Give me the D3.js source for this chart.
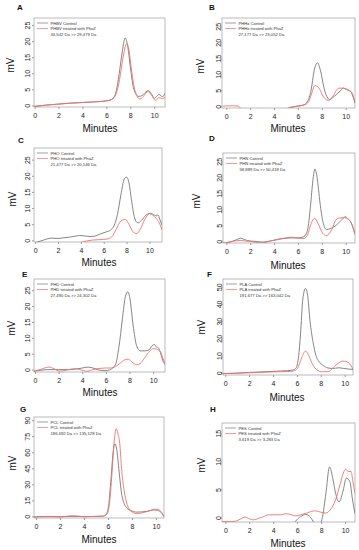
<!DOCTYPE html>
<html>
<head>
<meta charset="utf-8">
<script src="https://cdn.jsdelivr.net/npm/d3@7"></script>
<style>
  body { margin: 0; background: #fff; }
  svg { display: block; font-family: "Liberation Sans", Arial, sans-serif; }
</style>
</head>
<body>
<svg id="fig" width="359" height="550"></svg>
<script>
// ---- data: [minutes, mV] ----
const phbvControl = [[0,-0.3],[1,0.1],[2,0.4],[3,0.7],[4,0.9],[5,1.1],[6,1.4],[6.4,1.8],[6.7,3],[7.0,8],[7.3,16],[7.57,21],[7.8,18],[8.0,12],[8.3,5],[8.7,2.8],[9.0,3.1],[9.3,4.2],[9.5,4.6],[9.75,3.7],[10.0,2.2],[10.2,2.8],[10.4,3.4],[10.7,2.7],[10.9,3.8]];
const phbvTreated = [[0,-0.3],[1,0.1],[2,0.4],[3,0.7],[4,0.9],[5,1.1],[6,1.4],[6.5,2],[6.8,3.5],[7.1,8],[7.4,15],[7.7,19.3],[7.9,17],[8.1,11],[8.4,4.5],[8.8,2.0],[9.1,2.8],[9.3,3.9],[9.5,4.3],[9.8,3.0],[10.1,1.6],[10.4,2.4],[10.7,2.1],[10.9,2.7]];
const phhxControl = [[-0.3,-2],[2,-2],[4,-1.5],[5.0,-0.8],[5.4,-0.3],[6,0.1],[6.5,0.5],[6.8,1.5],[7.1,5],[7.35,11],[7.63,13.6],[7.9,11],[8.2,5.5],[8.5,2.6],[8.65,2.1],[9.0,3.0],[9.3,4.0],[9.6,5.0],[9.8,5.7],[10.1,5.2],[10.4,4.7],[10.6,3.2],[10.78,1.0]];
const phhxTreated = [[-0.3,0.1],[0.5,0.2],[1.0,0.1],[1.2,-0.6],[1.5,-1.5],[3,-2],[5.0,-0.8],[5.4,-0.3],[6,0.1],[6.5,0.4],[6.9,1.5],[7.1,3.5],[7.43,6.5],[7.8,5.5],[8.1,3.2],[8.55,1.9],[9.0,3.6],[9.3,5.4],[9.5,5.7],[9.8,5.7],[10.1,5.4],[10.3,5.0],[10.5,4.4],[10.78,1.0]];
const phoControl = [[-0.1,-0.8],[0.5,-0.2],[1.0,0.4],[1.4,0.7],[2,0.6],[2.5,0.8],[3,1.0],[3.5,1.3],[3.9,1.5],[4.3,1.4],[4.8,1.2],[5.2,1.3],[5.7,2.0],[6.2,2.6],[6.6,3.2],[6.9,4.5],[7.2,8],[7.5,14],[7.8,19],[8.0,19.6],[8.2,18],[8.45,12],[8.7,7],[9.0,5.4],[9.3,6.2],[9.7,7.8],[10.1,8.4],[10.45,7.8],[10.6,7.6],[10.75,7.9],[10.9,6.6],[11.1,4.7]];
const phoTreated = [[-0.1,-2],[3.5,-1.5],[4.0,-0.7],[4.5,-0.2],[5.0,0.1],[5.5,0.2],[6.0,0.3],[6.4,0.5],[6.8,1.5],[7.1,3.5],[7.5,6.0],[7.9,6.5],[8.2,5.0],[8.6,2.5],[8.9,2.1],[9.2,3.5],[9.6,6.5],[10.0,8.2],[10.3,7.8],[10.6,6.8],[10.85,5.5],[11.1,3.2]];
const phnControl = [[-0.28,-0.6],[0.5,0],[0.9,0.6],[1.2,1.0],[1.5,0.6],[2.0,0.1],[2.5,0],[3.0,-0.2],[3.5,0],[4.0,0.4],[4.5,0.8],[5.0,1.0],[5.5,1.1],[6.0,1.1],[6.5,1.5],[6.8,3.5],[7.05,11],[7.25,19],[7.42,22.6],[7.6,20],[7.85,12],[8.1,6],[8.4,3.7],[8.7,4.0],[9.25,5.2],[9.6,6.5],[9.98,7.7],[10.2,7.0],[10.4,6.2],[10.6,4.5],[10.78,2.2]];
const phnTreated = [[-0.28,-0.6],[0.5,0],[1.2,0.3],[1.6,0.1],[2.0,0],[2.5,-0.3],[2.9,-0.5],[3.3,-0.3],[3.8,0.2],[4.4,0.6],[5.0,1.1],[5.5,1.3],[6.0,1.0],[6.5,0.9],[6.8,2],[7.1,5.5],[7.4,7.2],[7.7,5.5],[8.0,3.0],[8.4,1.8],[8.8,3.5],[9.2,6.8],[9.5,7.3],[9.9,7.4],[10.2,7.0],[10.4,6.2],[10.6,4.5],[10.78,2.2]];
const phdControl = [[-0.08,-0.5],[0.5,-0.2],[1,0],[2,0],[3,0],[3.5,0.2],[4.0,0.5],[4.5,0.8],[5.0,0.4],[5.5,-0.2],[6.0,-0.3],[6.3,-0.1],[6.6,0.6],[6.85,2],[7.1,7],[7.4,16],[7.65,23],[7.85,24.5],[8.05,22],[8.3,14],[8.6,7.5],[8.9,5.9],[9.3,5.9],[9.65,6.2],[9.9,7.5],[10.1,7.9],[10.3,7.0],[10.45,6.8],[10.6,5.5],[10.8,3],[11,1.6]];
const phdTreated = [[-0.08,-0.5],[0.5,0.1],[0.9,0.6],[1.2,0.8],[1.6,0.3],[2.1,-0.5],[2.6,-0.2],[3.1,0.2],[3.4,0.3],[3.8,0.0],[4.4,-0.5],[5.0,0.1],[5.5,0.4],[6.0,0.5],[6.4,0.5],[6.8,0.9],[7.2,2.0],[7.6,3.1],[7.9,3.3],[8.2,2.4],[8.6,1.5],[8.9,1.9],[9.3,3.8],[9.7,5.8],[10.0,6.6],[10.3,6.4],[10.6,5.7],[10.8,3.8],[11,1.9]];
const plaControl = [[-0.19,-0.5],[1,-0.2],[2,0.2],[3,0.5],[4,0.8],[4.6,1.0],[5.2,1.2],[5.7,1.6],[5.95,3],[6.15,10],[6.3,22],[6.5,43],[6.72,49],[6.9,45],[7.1,30],[7.35,18],[7.6,10],[7.85,6.5],[8.2,4.3],[8.6,2.8],[9.0,2.5],[9.5,2.9],[9.9,2.5],[10.3,2.2],[10.7,1.9]];
const plaTreated = [[-0.19,-0.5],[1,-0.3],[2,0],[3,0.2],[4,0.5],[4.6,0.6],[5.2,0.7],[5.7,1.0],[6.05,2.5],[6.4,8.7],[6.72,12.6],[7.0,10],[7.2,6.5],[7.5,2.9],[8.05,0.6],[8.6,0.6],[9.2,4.1],[9.5,5.6],[9.85,6.8],[10.3,6.0],[10.5,4.5],[10.7,2.1]];
const pclControl = [[-0.17,-0.5],[1,0],[2,-0.3],[3,0],[4,-0.2],[5,0],[5.6,0.3],[5.85,2],[6.05,10],[6.25,35],[6.45,62],[6.58,68],[6.72,63],[6.9,45],[7.1,24],[7.35,12],[7.6,7.5],[7.9,5.5],[8.4,4.0],[8.8,4.2],[9.3,4.8],[9.8,6.0],[10.1,5.8],[10.35,4.5],[10.67,0]];
const pclTreated = [[-0.17,-0.5],[1,-0.3],[2,-0.5],[2.5,0],[3.0,0.6],[3.5,0.3],[4,-0.3],[5,0],[5.6,0.2],[5.9,2],[6.1,10],[6.3,35],[6.5,68],[6.68,82],[6.82,78],[7.0,66],[7.15,42],[7.35,24],[7.6,11],[7.9,5],[8.4,2.6],[8.9,3.5],[9.4,5.0],[9.9,6.8],[10.2,6.2],[10.4,4.8],[10.67,-0.5]];
const pesControl = [[-0.28,-3],[3,-3],[5.5,-2],[5.85,-0.7],[6.3,0.2],[6.72,0.55],[7.1,0.1],[7.4,-0.9],[7.7,-2],[7.95,-1.2],[8.1,0],[8.4,4.3],[8.7,9.0],[9.0,6.7],[9.2,4.4],[9.5,2.8],[9.85,4.9],[10.1,7.0],[10.4,6.4],[10.6,3.5],[10.83,0.7]];
const pesTreated = [[-0.28,-0.7],[0.5,-0.7],[0.9,-0.6],[1.3,-0.2],[1.65,0.1],[2.0,-0.2],[2.35,-0.4],[2.7,-0.2],[3.1,0.1],[3.6,0.5],[4.1,0.5],[4.6,0.5],[5.1,0.7],[5.5,0.5],[5.85,0.3],[6.3,0.5],[6.8,0.8],[7.2,1.1],[7.5,1.2],[7.9,1.0],[8.4,0.8],[8.8,1.5],[9.2,3.1],[9.6,6.0],[9.85,7.9],[10.05,8.6],[10.25,8.2],[10.5,8.2],[10.65,6.5],[10.83,4.3]];

// ---- labels and ticks ----
const letters = ['A','B','C','D','E','F','G','H'];
const polymers = ['PHBV','PHHx','PHO','PHN','PHD','PLA','PCL','PES'];
const masses = ['34,542 Da >> 29,479 Da','27,177 Da >> 23,052 Da','21,477 Da >> 20,146 Da','58,889 Da >> 50,418 Da',
                '27,490 Da >> 24,302 Da','191,677 Da >> 163,042 Da','186,692 Da >> 135,128 Da','3,619 Da >> 3,283 Da'];
const xTicks = [0,2,4,6,8,10];
const yTicks25 = [0,5,10,15,20,25];
const yTicksPLA = [0,10,20,30,40,50];
const yTicksPCL = [0,15,30,45,60,75,90];
const yTicksPES = [0,5,10,15];
const controls = [phbvControl, phhxControl, phoControl, phnControl, phdControl, plaControl, pclControl, pesControl];
const treated = [phbvTreated, phhxTreated, phoTreated, phnTreated, phdTreated, plaTreated, pclTreated, pesTreated];
const yTickSets = [yTicks25, yTicks25, yTicks25, yTicks25, yTicks25, yTicksPLA, yTicksPCL, yTicksPES];

// ---- layout of each panel (it's a pasted-together figure, so boxes differ a bit) ----
const layout = [
  {l:34, r:165, t:18,  b:107, xd:[-0.05,10.9], yd:[-0.5,27.2], lx:17,  ly:10,  mvx:10,  mvy:65,  mnx:100, mny:128, yo:6.5},
  {l:222,r:355, t:18,  b:108, xd:[-0.36,10.78],yd:[-0.5,27.6], lx:209, ly:10,  mvx:200, mvy:66,  mnx:288, mny:128, yo:3.5},
  {l:34, r:162, t:148, b:242, xd:[-0.1,11.1],  yd:[-0.5,28.6], lx:18,  ly:143, mvx:12,  mvy:199, mnx:99,  mny:262, yo:6},
  {l:223,r:355, t:153, b:243, xd:[-0.28,10.78],yd:[-0.5,27.6], lx:209, ly:141, mvx:196, mvy:201, mnx:288, mny:265, yo:3.5},
  {l:34, r:165, t:279, b:372, xd:[-0.08,11.0], yd:[-0.75,28.5],lx:22,  ly:277, mvx:11,  mvy:328, mnx:100, mny:392, yo:6},
  {l:223,r:353, t:279, b:375, xd:[-0.19,10.7], yd:[-1.3,54.5], lx:207, ly:277, mvx:201, mvy:327, mnx:287, mny:397, yo:3.5},
  {l:34, r:164, t:417, b:518, xd:[-0.17,10.67],yd:[-1.5,93],   lx:20,  ly:412, mvx:12,  mvy:463, mnx:99,  mny:539, yo:6},
  {l:222,r:355, t:423, b:522, xd:[-0.28,10.83],yd:[-0.78,16.8],lx:210, ly:412, mvx:201, mvy:465, mnx:288, mny:543, yo:3.5},
];

const grayCol = '#777';
const redCol = '#f07070';
const svg = d3.select('#fig');

layout.forEach((L, i) => {
  const x = d3.scaleLinear().domain(L.xd).range([L.l, L.r]);
  const y = d3.scaleLinear().domain(L.yd).range([L.b, L.t]);
  const g = svg.append('g');

  g.append('clipPath').attr('id', `clip${i}`)
    .append('rect').attr('x', L.l).attr('y', L.t).attr('width', L.r - L.l).attr('height', L.b - L.t);

  // x axis
  const xa = g.append('g')
    .attr('transform', `translate(0,${L.b})`)
    .call(d3.axisBottom(x).tickValues(xTicks).tickSize(2).tickPadding(4))
    .attr('font-size', 7).attr('font-family', null);
  xa.select('.domain').remove();
  xa.selectAll('line').attr('stroke', '#999');
  xa.selectAll('text').attr('fill', '#222');

  // y axis, labels turned like R does
  const ya = g.append('g')
    .attr('transform', `translate(${L.l},0)`)
    .call(d3.axisLeft(y).tickValues(yTickSets[i]).tickSize(2))
    .attr('font-size', 7).attr('font-family', null);
  ya.select('.domain').remove();
  ya.selectAll('line').attr('stroke', '#999');
  ya.selectAll('text')
    .attr('x', 0).attr('dy', '0.35em').attr('fill', '#222')
    .attr('text-anchor', 'middle')
    .attr('transform', `translate(${-L.yo},0) rotate(-90)`);

  // frame
  g.append('rect').attr('x', L.l).attr('y', L.t).attr('width', L.r - L.l).attr('height', L.b - L.t)
    .attr('fill', 'none').attr('stroke', '#aaa').attr('stroke-width', 0.8);

  const line = d3.line().x(d => x(d[0])).y(d => y(d[1])).curve(d3.curveMonotoneX);
  const plot = g.append('g').attr('clip-path', `url(#clip${i})`);
  plot.append('path').datum(controls[i]).attr('d', line)
    .attr('fill', 'none').attr('stroke', grayCol).attr('stroke-width', 0.9);
  plot.append('path').datum(treated[i]).attr('d', line)
    .attr('fill', 'none').attr('stroke', redCol).attr('stroke-width', 0.9);

  // legend
  const leg = g.append('g').attr('font-size', 4.2).attr('fill', '#333');
  leg.append('line').attr('x1', L.l + 3).attr('x2', L.l + 14).attr('y1', L.t + 5).attr('y2', L.t + 5)
    .attr('stroke', grayCol).attr('stroke-width', 0.7);
  leg.append('line').attr('x1', L.l + 3).attr('x2', L.l + 14).attr('y1', L.t + 10.5).attr('y2', L.t + 10.5)
    .attr('stroke', redCol).attr('stroke-width', 0.7);
  leg.append('text').attr('x', L.l + 16.5).attr('y', L.t + 6.5).text(`${polymers[i]} Control`);
  leg.append('text').attr('x', L.l + 16.5).attr('y', L.t + 12).text(`${polymers[i]} treated with PhaZ`);
  leg.append('text').attr('x', L.l + 16.5).attr('y', L.t + 17.5).text(masses[i]);

  // axis titles + panel letter
  g.append('text').attr('x', L.mnx).attr('y', L.mny).attr('dy', '0.35em')
    .attr('text-anchor', 'middle').attr('font-size', 10).attr('fill', '#111').text('Minutes');
  g.append('text').attr('transform', `translate(${L.mvx},${L.mvy}) rotate(-90)`).attr('dy', '0.35em')
    .attr('text-anchor', 'middle').attr('font-size', 10).attr('fill', '#111').text('mV');
  g.append('text').attr('x', L.lx).attr('y', L.ly)
    .attr('font-size', 8).attr('font-weight', 'bold').attr('fill', '#111').text(letters[i]);
});
</script>
</body>
</html>
